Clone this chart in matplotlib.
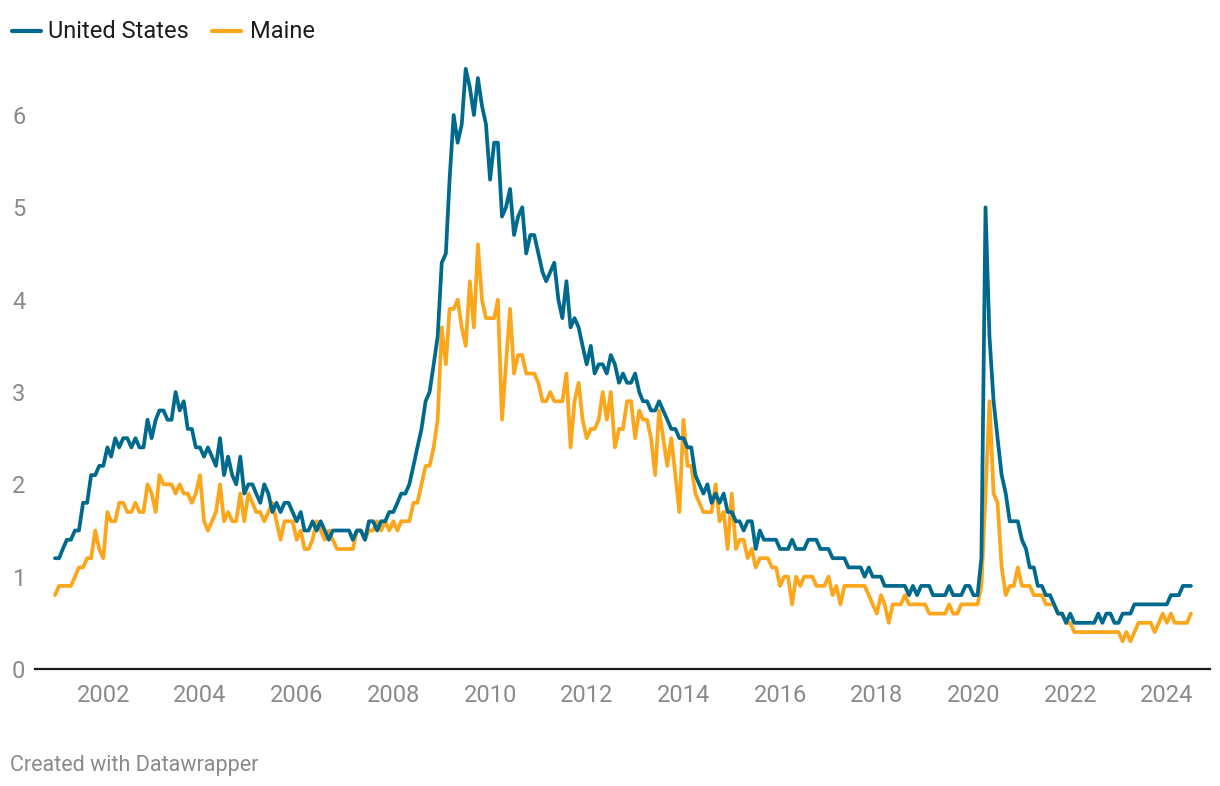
import pandas as pd
import matplotlib
matplotlib.use("Agg")
import matplotlib.pyplot as plt
from matplotlib.lines import Line2D

plt.rcParams['font.family'] = ['Roboto', 'DejaVu Sans']

# monthly values, Jan 2001 .. Jul 2024 (one row per year)
us = [
    1.2, 1.2, 1.3, 1.4, 1.4, 1.5, 1.5, 1.8, 1.8, 2.1, 2.1, 2.2,
    2.2, 2.4, 2.3, 2.5, 2.4, 2.5, 2.5, 2.4, 2.5, 2.4, 2.4, 2.7,
    2.5, 2.7, 2.8, 2.8, 2.7, 2.7, 3.0, 2.8, 2.9, 2.6, 2.6, 2.4,
    2.4, 2.3, 2.4, 2.3, 2.2, 2.5, 2.1, 2.3, 2.1, 2.0, 2.3, 1.9,
    2.0, 2.0, 1.9, 1.8, 2.0, 1.9, 1.7, 1.8, 1.7, 1.8, 1.8, 1.7,
    1.6, 1.7, 1.5, 1.5, 1.6, 1.5, 1.6, 1.5, 1.4, 1.5, 1.5, 1.5,
    1.5, 1.5, 1.4, 1.5, 1.5, 1.4, 1.6, 1.6, 1.5, 1.6, 1.6, 1.7,
    1.7, 1.8, 1.9, 1.9, 2.0, 2.2, 2.4, 2.6, 2.9, 3.0, 3.3, 3.6,
    4.4, 4.5, 5.3, 6.0, 5.7, 5.9, 6.5, 6.3, 6.0, 6.4, 6.1, 5.9,
    5.3, 5.7, 5.7, 4.9, 5.0, 5.2, 4.7, 4.9, 5.0, 4.5, 4.7, 4.7,
    4.5, 4.3, 4.2, 4.3, 4.4, 4.0, 3.8, 4.2, 3.7, 3.8, 3.7, 3.5,
    3.3, 3.5, 3.2, 3.3, 3.3, 3.2, 3.4, 3.3, 3.1, 3.2, 3.1, 3.1,
    3.2, 3.0, 2.9, 2.9, 2.8, 2.8, 2.9, 2.8, 2.7, 2.6, 2.6, 2.5,
    2.5, 2.4, 2.4, 2.1, 2.0, 1.9, 2.0, 1.8, 1.9, 1.8, 1.9, 1.7,
    1.7, 1.6, 1.6, 1.5, 1.6, 1.6, 1.3, 1.5, 1.4, 1.4, 1.4, 1.4,
    1.3, 1.3, 1.3, 1.4, 1.3, 1.3, 1.3, 1.4, 1.4, 1.4, 1.3, 1.3,
    1.3, 1.2, 1.2, 1.2, 1.2, 1.1, 1.1, 1.1, 1.1, 1.0, 1.1, 1.0,
    1.0, 1.0, 0.9, 0.9, 0.9, 0.9, 0.9, 0.9, 0.8, 0.9, 0.8, 0.9,
    0.9, 0.9, 0.8, 0.8, 0.8, 0.8, 0.9, 0.8, 0.8, 0.8, 0.9, 0.9,
    0.8, 0.8, 1.2, 5.0, 3.6, 2.9, 2.5, 2.1, 1.9, 1.6, 1.6, 1.6,
    1.4, 1.3, 1.1, 1.1, 0.9, 0.9, 0.8, 0.8, 0.7, 0.6, 0.6, 0.5,
    0.6, 0.5, 0.5, 0.5, 0.5, 0.5, 0.5, 0.6, 0.5, 0.6, 0.6, 0.5,
    0.5, 0.6, 0.6, 0.6, 0.7, 0.7, 0.7, 0.7, 0.7, 0.7, 0.7, 0.7,
    0.7, 0.8, 0.8, 0.8, 0.9, 0.9, 0.9,
]

maine = [
    0.8, 0.9, 0.9, 0.9, 0.9, 1.0, 1.1, 1.1, 1.2, 1.2, 1.5, 1.3,
    1.2, 1.7, 1.6, 1.6, 1.8, 1.8, 1.7, 1.7, 1.8, 1.7, 1.7, 2.0,
    1.9, 1.7, 2.1, 2.0, 2.0, 2.0, 1.9, 2.0, 1.9, 1.9, 1.8, 1.9,
    2.1, 1.6, 1.5, 1.6, 1.7, 2.0, 1.6, 1.7, 1.6, 1.6, 1.9, 1.6,
    1.9, 1.8, 1.7, 1.7, 1.6, 1.7, 1.8, 1.6, 1.4, 1.6, 1.6, 1.6,
    1.4, 1.5, 1.3, 1.3, 1.4, 1.6, 1.5, 1.4, 1.5, 1.4, 1.3, 1.3,
    1.3, 1.3, 1.3, 1.5, 1.5, 1.4, 1.5, 1.5, 1.6, 1.5, 1.6, 1.5,
    1.6, 1.5, 1.6, 1.6, 1.6, 1.8, 1.8, 2.0, 2.2, 2.2, 2.4, 2.7,
    3.7, 3.3, 3.9, 3.9, 4.0, 3.7, 3.5, 4.2, 3.7, 4.6, 4.0, 3.8,
    3.8, 3.8, 4.0, 2.7, 3.3, 3.9, 3.2, 3.4, 3.4, 3.2, 3.2, 3.2,
    3.1, 2.9, 2.9, 3.0, 2.9, 2.9, 2.9, 3.2, 2.4, 2.9, 3.1, 2.7,
    2.5, 2.6, 2.6, 2.7, 3.0, 2.7, 3.0, 2.4, 2.6, 2.6, 2.9, 2.9,
    2.5, 2.8, 2.7, 2.7, 2.5, 2.1, 2.8, 2.5, 2.2, 2.5, 2.1, 1.7,
    2.7, 2.2, 2.2, 1.9, 1.8, 1.7, 1.7, 1.7, 2.0, 1.6, 1.7, 1.3,
    1.9, 1.3, 1.4, 1.4, 1.2, 1.3, 1.1, 1.2, 1.2, 1.2, 1.1, 1.1,
    0.9, 1.0, 1.0, 0.7, 1.0, 0.9, 1.0, 1.0, 1.0, 0.9, 0.9, 0.9,
    1.0, 0.8, 0.9, 0.7, 0.9, 0.9, 0.9, 0.9, 0.9, 0.9, 0.8, 0.7,
    0.6, 0.8, 0.7, 0.5, 0.7, 0.7, 0.7, 0.8, 0.7, 0.7, 0.7, 0.7,
    0.7, 0.6, 0.6, 0.6, 0.6, 0.6, 0.7, 0.6, 0.6, 0.7, 0.7, 0.7,
    0.7, 0.7, 0.9, 1.9, 2.9, 1.9, 1.8, 1.1, 0.8, 0.9, 0.9, 1.1,
    0.9, 0.9, 0.9, 0.8, 0.8, 0.8, 0.7, 0.7, 0.7, 0.6, 0.6, 0.5,
    0.5, 0.4, 0.4, 0.4, 0.4, 0.4, 0.4, 0.4, 0.4, 0.4, 0.4, 0.4,
    0.4, 0.3, 0.4, 0.3, 0.4, 0.5, 0.5, 0.5, 0.5, 0.4, 0.5, 0.6,
    0.5, 0.6, 0.5, 0.5, 0.5, 0.5, 0.6,
]

months = pd.date_range('2001-01-01', periods=len(us), freq='MS')
tick_years = list(range(2002, 2025, 2))
y_ticks = [0, 1, 2, 3, 4, 5, 6]

blue = '#006a8e'
orange = '#fca61c'
grey = '#8a8a8a'

fig = plt.figure(figsize=(12.2, 7.86), dpi=100)
ax = fig.add_axes([35 / 1220, 117 / 786, 1175 / 1220, 614 / 786])

ax.plot(months, maine, color=orange, lw=2.7, solid_joinstyle='round',
        solid_capstyle='round', zorder=2)
ax.plot(months, us, color=blue, lw=2.7, solid_joinstyle='round',
        solid_capstyle='round', zorder=3)

ax.set_xlim(pd.Timestamp('2000-08-03'), pd.Timestamp('2024-11-22'))
ax.set_ylim(0, 6.65)

ax.set_xticks([pd.Timestamp(f'{y}-01-01') for y in tick_years])
ax.set_xticklabels([str(y) for y in tick_years])
ax.set_yticks(y_ticks)
ax.set_yticklabels([str(v) for v in y_ticks])
ax.tick_params(axis='x', length=0, pad=10.5, labelsize=17, labelcolor=grey)
ax.tick_params(axis='y', length=0, pad=16.5, labelsize=17, labelcolor=grey)
for lab in ax.get_yticklabels():
    lab.set_horizontalalignment('left')

for s in ['top', 'right', 'left']:
    ax.spines[s].set_visible(False)
ax.spines['bottom'].set_color('#1a1a1a')
ax.spines['bottom'].set_linewidth(1.6)
ax.patch.set_alpha(0)

# legend at top left
leg_items = [('United States', blue, 12, 48), ('Maine', orange, 212, 250)]
for name, col, x0, xt in leg_items:
    fig.add_artist(Line2D([x0 / 1220, (x0 + 29) / 1220], [1 - 31 / 786, 1 - 31 / 786],
                          color=col, lw=3, solid_capstyle='round'))
    fig.text(xt / 1220, 1 - 32 / 786, name, fontsize=17, color='#1d1d1d',
             va='center', ha='left')

fig.text(10 / 1220, 1 - 765 / 786, 'Created with Datawrapper', fontsize=15.5,
         color=grey, va='center', ha='left')

fig.savefig('out.png', dpi=100)
